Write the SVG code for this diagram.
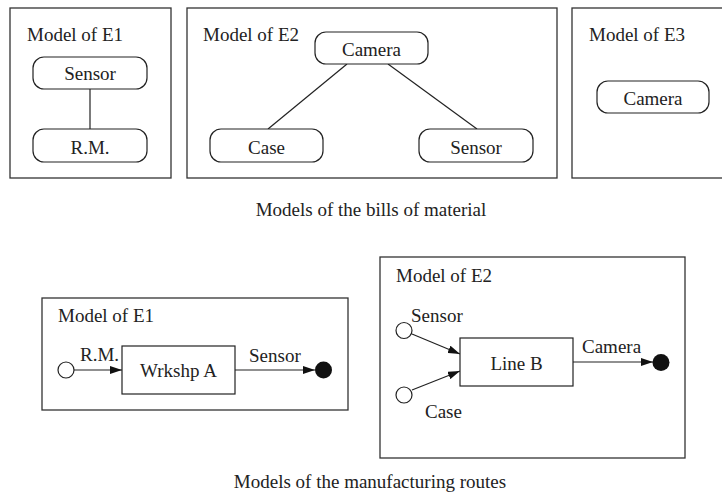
<svg xmlns="http://www.w3.org/2000/svg" width="722" height="495" viewBox="0 0 722 495">
<style>
text{font-family:"Liberation Serif","Times New Roman",serif;font-size:19px;fill:#222}
.c{text-anchor:middle}
.frame{fill:none;stroke:#333;stroke-width:1.3}
.node{fill:#fff;stroke:#222;stroke-width:1.2}
.edge{fill:none;stroke:#222;stroke-width:1.2}
</style>
<defs>
<marker id="ah" viewBox="0 0 12 8" refX="12" refY="4" markerWidth="12" markerHeight="8" markerUnits="userSpaceOnUse" orient="auto">
<path d="M0,0 L12,4 L0,8 Z" fill="#111"/>
</marker>
</defs>
<rect width="722" height="495" fill="#fff"/>

<g id="bom-e1">
<rect class="frame" x="10" y="8" width="161" height="170"/>
<text x="27" y="41">Model of E1</text>
</g>
<g id="bom-e2">
<rect class="frame" x="187" y="8" width="370" height="170"/>
<text x="203" y="41">Model of E2</text>
</g>
<g id="bom-e3">
<rect class="frame" x="572" y="8" width="160" height="170"/>
<text x="589" y="41">Model of E3</text>
</g>

<g id="connectors">
<line class="edge" x1="90" y1="89" x2="90" y2="129"/>
<line class="edge" x1="347" y1="64" x2="268" y2="129"/>
<line class="edge" x1="388" y1="64" x2="477" y2="129"/>
<line class="edge" x1="74" y1="370" x2="122" y2="370" marker-end="url(#ah)"/>
<line class="edge" x1="235" y1="370" x2="315" y2="370" marker-end="url(#ah)"/>
<line class="edge" x1="412" y1="334" x2="460" y2="354" marker-end="url(#ah)"/>
<line class="edge" x1="412" y1="390" x2="460" y2="371" marker-end="url(#ah)"/>
<line class="edge" x1="573" y1="362" x2="653" y2="362" marker-end="url(#ah)"/>
</g>

<g id="e1-sensor">
<rect class="node" x="33" y="57" width="114" height="32" rx="11"/>
<text class="c" x="90" y="80">Sensor</text>
</g>
<g id="e1-rm">
<rect class="node" x="33" y="129" width="114" height="33" rx="11"/>
<text class="c" x="90" y="154">R.M.</text>
</g>
<g id="e2-camera">
<rect class="node" x="315" y="32" width="113" height="32" rx="11"/>
<text class="c" x="371.5" y="56">Camera</text>
</g>
<g id="e2-case">
<rect class="node" x="210" y="129" width="113" height="33" rx="11"/>
<text class="c" x="266.5" y="154">Case</text>
</g>
<g id="e2-sensor">
<rect class="node" x="419" y="129" width="114" height="33" rx="11"/>
<text class="c" x="476" y="154">Sensor</text>
</g>
<g id="e3-camera">
<rect class="node" x="597" y="81" width="112" height="32" rx="11"/>
<text class="c" x="653" y="105">Camera</text>
</g>

<text class="c" x="371" y="216">Models of the bills of material</text>

<g id="route-e1">
<rect class="frame" x="42" y="298" width="306" height="112"/>
<text x="58" y="322">Model of E1</text>
</g>
<g id="route-e2">
<rect class="frame" x="380" y="257" width="305" height="201"/>
<text x="396" y="282">Model of E2</text>
</g>

<g id="e1-source">
<circle class="node" cx="66" cy="370" r="8"/>
</g>
<g id="e1-wrkshp">
<rect class="node" x="122" y="346" width="113" height="48"/>
<text class="c" x="178.5" y="377">Wrkshp A</text>
</g>
<g id="e1-sink">
<circle cx="323.5" cy="370" r="8.5" fill="#111"/>
</g>
<text x="80" y="361">R.M.</text>
<text x="249" y="362">Sensor</text>

<g id="e2-src-sensor">
<circle class="node" cx="404" cy="330.5" r="8"/>
</g>
<g id="e2-src-case">
<circle class="node" cx="404" cy="395" r="8"/>
</g>
<g id="e2-line">
<rect class="node" x="460" y="338" width="113" height="48"/>
<text class="c" x="516.5" y="370">Line B</text>
</g>
<g id="e2-sink">
<circle cx="661" cy="362.5" r="8.5" fill="#111"/>
</g>
<text x="411" y="322">Sensor</text>
<text x="425" y="418">Case</text>
<text x="582" y="353">Camera</text>

<text class="c" x="370" y="488">Models of the manufacturing routes</text>
</svg>
